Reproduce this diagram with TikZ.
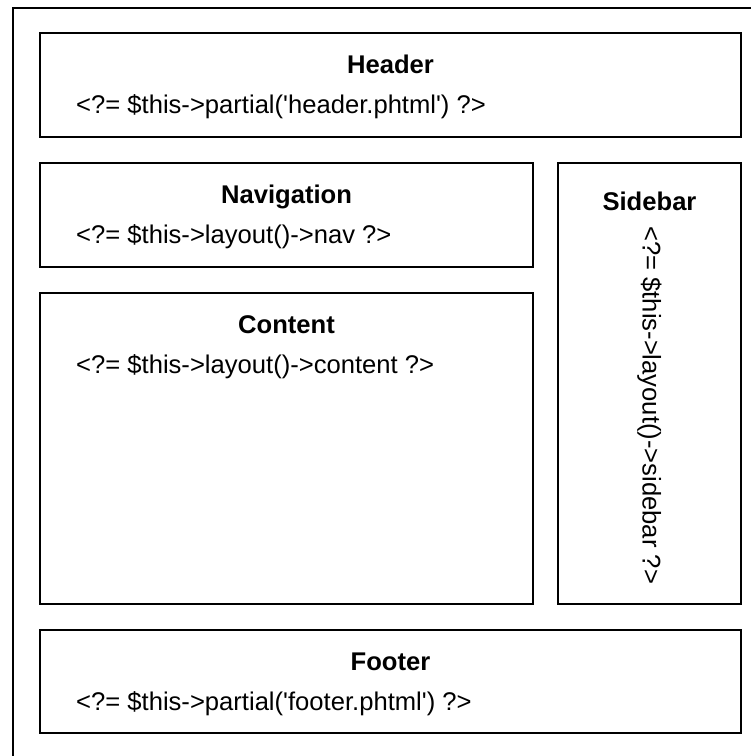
\documentclass[tikz,border=0pt]{standalone}
\usepackage{fontspec}
\setmainfont{Liberation Sans}
\newcommand{\tq}{\textquotesingle}

\begin{document}
\begin{tikzpicture}[x=1pt,y=-1pt,
  box/.style={draw, line width=2pt, anchor=north west, inner sep=0pt, outer sep=0pt},
  title/.style={font=\fontsize{25.6}{30}\selectfont\bfseries, anchor=base, inner sep=0pt},
  code/.style={font=\fontsize{25.6}{30}\selectfont, anchor=base west, inner sep=0pt}]

\useasboundingbox (0,0) rectangle (751,756);
\draw[line width=2pt] (13,8) rectangle (770,762);

% header
\node[box, minimum width=701pt, minimum height=104pt] (header) at (40,33) {};
\node[title] (headertitle) at (390.5,73) {Header};
\node[code] (headercode) at (76,113) {<?= \$this->partial(\tq header.phtml\tq) ?>};

% navigation
\node[box, minimum width=493pt, minimum height=104pt] (nav) at (40,163) {};
\node[title] (navtitle) at (286.5,203) {Navigation};
\node[code] (navcode) at (76,243) {<?= \$this->layout()->nav ?>};

% content
\node[box, minimum width=493pt, minimum height=311pt] (content) at (40,293) {};
\node[title] (contenttitle) at (286.5,333) {Content};
\node[code] (contentcode) at (76,373) {<?= \$this->layout()->content ?>};

% sidebar
\node[box, minimum width=183pt, minimum height=441pt] (sidebar) at (558,163) {};
\node[title] (sidebartitle) at (649.5,210) {Sidebar};
\node[code, anchor=west, rotate=-90] (sidebarcode) at (649.5,226) {<?= \$this->layout()->sidebar ?>};

% footer
\node[box, minimum width=701pt, minimum height=103pt] (footer) at (40,630) {};
\node[title] (footertitle) at (390.5,670) {Footer};
\node[code] (footercode) at (76,710) {<?= \$this->partial(\tq footer.phtml\tq) ?>};

\end{tikzpicture}
\end{document}
